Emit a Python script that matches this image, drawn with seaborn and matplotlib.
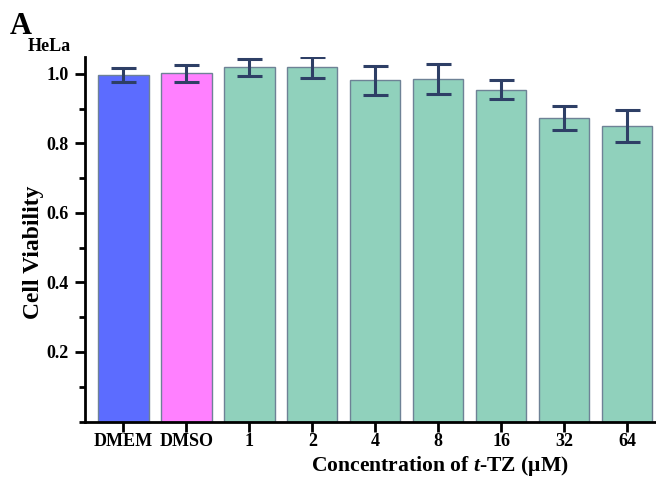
import matplotlib
matplotlib.use("Agg")
import matplotlib.pyplot as plt
import seaborn as sns
import pandas as pd
from matplotlib.ticker import MultipleLocator

# data
groups = ["DMEM", "DMSO", "1", "2", "4", "8", "16", "32", "64"]
viability = [0.998, 1.002, 1.019, 1.019, 0.982, 0.985, 0.955, 0.873, 0.849]
errors = [0.020, 0.024, 0.025, 0.030, 0.042, 0.044, 0.028, 0.034, 0.046]
bar_colors = ["#5C6CFF", "#FF80FF"] + ["#90D1BC"] * 7

sns.set_theme(style="ticks")
plt.rcParams["font.family"] = ["Liberation Serif", "DejaVu Serif"]
plt.rcParams["font.weight"] = "bold"
plt.rcParams["text.color"] = "black"
plt.rcParams["axes.labelcolor"] = "black"
plt.rcParams["mathtext.fontset"] = "custom"
plt.rcParams["mathtext.it"] = "Liberation Serif:bold:italic"
plt.rcParams["mathtext.rm"] = "Liberation Serif:bold"

df = pd.DataFrame({"group": groups, "viability": viability})

fig = plt.figure(figsize=(6.56, 4.78), dpi=100)
ax = fig.add_axes([0.1296, 0.1182, 0.8704, 0.7634])

sns.barplot(data=df, x="group", y="viability", hue="group", palette=bar_colors,
            legend=False, width=0.8, edgecolor="#6E8296", linewidth=1.0,
            saturation=1, ax=ax)
ax.errorbar(range(len(groups)), viability, yerr=errors, fmt="none",
            ecolor="#2E3F66", elinewidth=2.2, capsize=9, capthick=2.2, zorder=5)

ax.set_xlim(-0.61, 8.46)
ax.set_ylim(0, 1.05)
ax.set_yticks([0.2, 0.4, 0.6, 0.8, 1.0])
ax.yaxis.set_minor_locator(MultipleLocator(0.1))

for side in ["top", "right"]:
    ax.spines[side].set_visible(False)
for side in ["left", "bottom"]:
    ax.spines[side].set_linewidth(2)
    ax.spines[side].set_color("black")

ax.tick_params(axis="both", which="major", length=7, width=2, labelsize=13, colors="black")
ax.tick_params(axis="x", which="major", pad=1.5)
ax.tick_params(axis="y", which="major", pad=5)
ax.tick_params(axis="y", which="minor", length=4, width=2, colors="black")
for lbl in ax.get_xticklabels() + ax.get_yticklabels():
    lbl.set_fontweight("bold")

ax.set_ylabel("Cell Viability", fontsize=17, fontweight="bold")
ax.yaxis.set_label_coords(-0.072, 0.4645)
ax.set_xlabel(r"Concentration of $\mathit{t}$-TZ (μM)", fontsize=15.6, fontweight="bold")
ax.xaxis.set_label_coords(0.6217, -0.089)

fig.text(0.015, 0.929, "A", fontsize=22, fontweight="bold", ha="left", va="baseline")
fig.text(0.042, 0.893, "HeLa", fontsize=13, fontweight="bold", ha="left", va="baseline")

fig.savefig("out.png", dpi=100)
